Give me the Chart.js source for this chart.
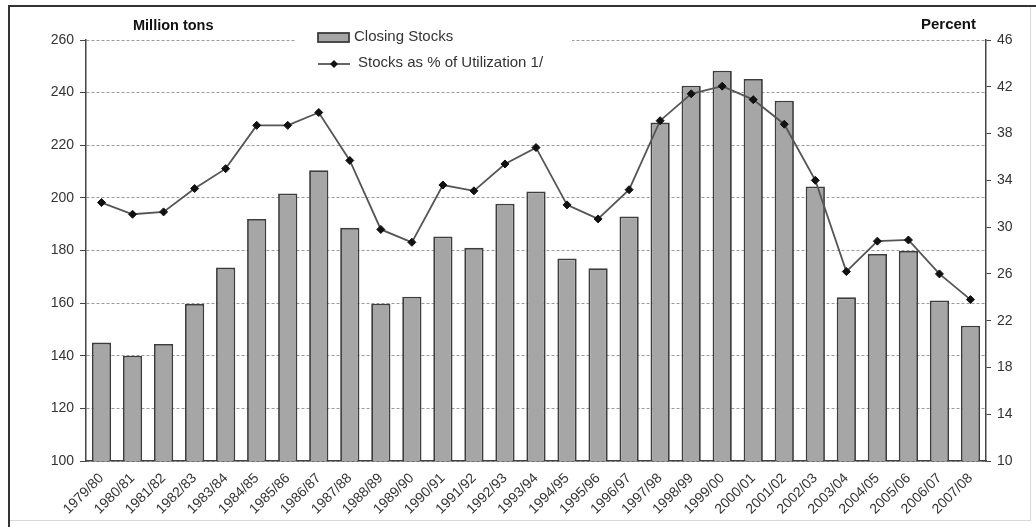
<!DOCTYPE html>
<html>
<head>
<meta charset="utf-8">
<script src="https://cdn.jsdelivr.net/npm/chart.js@4.4.1/dist/chart.umd.min.js"></script>
<style>
  html, body { margin: 0; padding: 0; background: #fff; }
  #wrap { width: 1036px; height: 527px; position: relative; }
</style>
</head>
<body>
<div id="wrap"><canvas id="c" width="1036" height="527"></canvas></div>
<script>
// Marketing years
const seasons = [
  '1979/80','1980/81','1981/82','1982/83','1983/84','1984/85','1985/86','1986/87',
  '1987/88','1988/89','1989/90','1990/91','1991/92','1992/93','1993/94','1994/95',
  '1995/96','1996/97','1997/98','1998/99','1999/00','2000/01','2001/02','2002/03',
  '2003/04','2004/05','2005/06','2006/07','2007/08'
];

// Closing stocks, million tons
const closingStocks = [
  145, 140, 144.5, 159.7, 173.5, 192, 201.7, 210.5, 188.6, 159.8, 162.4, 185.3, 181, 197.8, 202.4,
  177, 173.3, 192.9, 228.6, 242.6, 248.3, 245.2, 236.9, 204.3, 162.2, 178.7, 179.8, 161, 151.4
];

// Stocks as percent of utilization
const stocksPct = [
  32.1, 31.1, 31.3, 33.3, 35.0, 38.7, 38.7, 39.8, 35.7, 29.8, 28.7, 33.6, 33.1, 35.4, 36.8,
  31.9, 30.7, 33.2, 39.1, 41.4, 42.05, 40.9, 38.8, 34.0, 26.2, 28.8, 28.9, 26.0, 23.8
];

// Axis ranges and units
const leftTicks = [100, 120, 140, 160, 180, 200, 220, 240, 260];
const rightTicks = [10, 14, 18, 22, 26, 30, 34, 38, 42, 46];
const leftUnit = 'Million tons';
const rightUnit = 'Percent';

const FONT = 'Arial, "Liberation Sans", sans-serif';
const TEXT = '#333333';

// Outer frame and white background
const framePlugin = {
  id: 'frame',
  beforeDraw(chart) {
    const ctx = chart.ctx;
    ctx.save();
    ctx.fillStyle = '#ffffff';
    ctx.fillRect(0, 0, chart.width, chart.height);
    ctx.strokeStyle = '#d8d8d8';
    ctx.lineWidth = 1;
    ctx.strokeRect(9.5, 6.5, 1021, 514);
    ctx.strokeStyle = '#333333';
    ctx.lineWidth = 2;
    ctx.beginPath();
    ctx.moveTo(9, 527);
    ctx.lineTo(9, 6);
    ctx.lineTo(1036, 6);
    ctx.stroke();
    ctx.restore();
  }
};

// Unit captions above both value axes
const unitPlugin = {
  id: 'units',
  afterDraw(chart) {
    const ctx = chart.ctx;
    ctx.save();
    ctx.fillStyle = '#111';
    ctx.textBaseline = 'middle';
    ctx.font = 'bold 14.5px ' + FONT;
    ctx.textAlign = 'left';
    ctx.fillText(leftUnit, 133, 26);
    ctx.font = 'bold 15px ' + FONT;
    ctx.textAlign = 'right';
    ctx.fillText(rightUnit, 976, 25);
    ctx.restore();
  }
};

// Legend box drawn inside the plot area
const legendPlugin = {
  id: 'innerLegend',
  afterDatasetsDraw(chart) {
    const ctx = chart.ctx;
    const bar = chart.data.datasets[1];
    const line = chart.data.datasets[0];
    ctx.save();
    ctx.fillStyle = '#ffffff';
    ctx.fillRect(296, 26, 276, 50);
    // bar swatch
    ctx.fillStyle = bar.backgroundColor;
    ctx.strokeStyle = bar.borderColor;
    ctx.lineWidth = 1.8;
    ctx.fillRect(318, 33, 31, 9);
    ctx.strokeRect(318, 33, 31, 9);
    // line swatch
    ctx.strokeStyle = line.borderColor;
    ctx.lineWidth = 1.8;
    ctx.beginPath();
    ctx.moveTo(318, 64);
    ctx.lineTo(350, 64);
    ctx.stroke();
    ctx.fillStyle = line.pointBackgroundColor;
    ctx.beginPath();
    ctx.moveTo(334, 60);
    ctx.lineTo(338, 64);
    ctx.lineTo(334, 68);
    ctx.lineTo(330, 64);
    ctx.closePath();
    ctx.fill();
    // labels
    ctx.fillStyle = TEXT;
    ctx.font = '15px ' + FONT;
    ctx.textBaseline = 'middle';
    ctx.textAlign = 'left';
    ctx.fillText(bar.label, 354, 37);
    ctx.fillText(line.label, 358, 63);
    ctx.restore();
  }
};

new Chart(document.getElementById('c'), {
  type: 'bar',
  data: {
    labels: seasons,
    datasets: [
      {
        type: 'line',
        label: 'Stocks as % of Utilization 1/',
        data: stocksPct,
        yAxisID: 'yRight',
        borderColor: '#555555',
        borderWidth: 1.8,
        pointStyle: 'rectRot',
        pointRadius: 4,
        pointBackgroundColor: '#111111',
        pointBorderColor: '#111111',
        pointBorderWidth: 1,
        tension: 0,
        order: 0
      },
      {
        type: 'bar',
        label: 'Closing Stocks',
        data: closingStocks,
        yAxisID: 'yLeft',
        backgroundColor: '#a6a6a6',
        borderColor: '#3d3d3d',
        borderWidth: 1.8,
        categoryPercentage: 1,
        barPercentage: 0.62,
        order: 1
      }
    ]
  },
  options: {
    responsive: false,
    animation: false,
    devicePixelRatio: 1,
    layout: { padding: { top: 40, left: 0, right: 0, bottom: 0 } },
    plugins: {
      legend: { display: false },
      tooltip: { enabled: false }
    },
    scales: {
      x: {
        grid: { display: false },
        border: { display: true, color: '#444', width: 1.5 },
        ticks: {
          color: TEXT,
          font: { family: FONT, size: 14 },
          minRotation: 45,
          maxRotation: 45,
          autoSkip: false,
          padding: 1
        },
        afterFit(scale) { scale.height = 66; }
      },
      yLeft: {
        position: 'left',
        min: leftTicks[0],
        max: leftTicks[leftTicks.length - 1],
        afterBuildTicks(scale) { scale.ticks = leftTicks.map(v => ({ value: v })); },
        grid: {
          color: '#9a9a9a',
          lineWidth: 1,
          tickColor: '#444',
          tickLength: 6,
          tickBorderDash: []
        },
        border: { display: true, color: '#444', width: 1.5, dash: [3, 2] },
        ticks: {
          color: TEXT,
          font: { family: FONT, size: 14 },
          padding: 6
        },
        afterFit(scale) { scale.width = 86; }
      },
      yRight: {
        position: 'right',
        min: rightTicks[0],
        max: rightTicks[rightTicks.length - 1],
        afterBuildTicks(scale) { scale.ticks = rightTicks.map(v => ({ value: v })); },
        grid: {
          drawOnChartArea: false,
          color: '#444',
          tickLength: 5
        },
        border: { display: true, color: '#444', width: 1.5 },
        ticks: {
          color: TEXT,
          font: { family: FONT, size: 14 },
          padding: 6
        },
        afterFit(scale) { scale.width = 50; }
      }
    }
  },
  plugins: [framePlugin, legendPlugin, unitPlugin]
});
</script>
</body>
</html>
